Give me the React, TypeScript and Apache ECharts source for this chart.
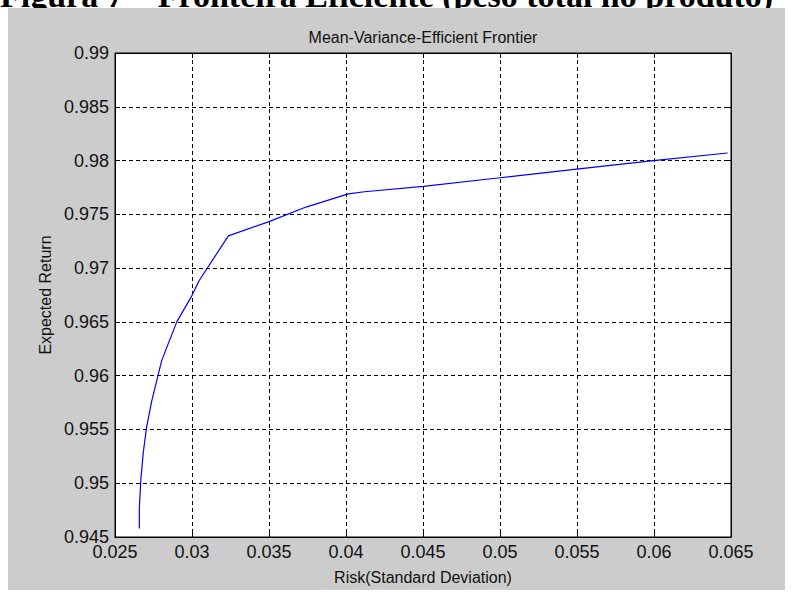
import React, { useEffect, useRef } from "react";
import * as echarts from "echarts";

const riskX = [0.02658, 0.02658, 0.02668, 0.02684, 0.02705, 0.02738, 0.02803, 0.02901, 0.02998, 0.03045, 0.03236, 0.03496, 0.03745, 0.04015, 0.0412, 0.04502, 0.05, 0.05498, 0.05996, 0.06478];
const expectedReturn = [0.9458, 0.9477, 0.9504, 0.9529, 0.9552, 0.9576, 0.9614, 0.965, 0.9674, 0.9688, 0.973, 0.9743, 0.9757, 0.9769, 0.9771, 0.9776, 0.9784, 0.9792, 0.98, 0.9807];

const chartTitle = "Mean-Variance-Efficient Frontier";
const xName = "Risk(Standard Deviation)";
const yName = "Expected Return";
const figureCaption = "Figura 7 – Fronteira Eficiente (peso total no produto)";

const fmt = (v: number) => String(+(+v).toFixed(4));

export default function App() {
  const ref = useRef<HTMLDivElement>(null);
  useEffect(() => {
    document.body.style.margin = "0";
    const chart = echarts.init(ref.current!, null, { renderer: "svg" });
    const font = "'Liberation Sans', Arial, sans-serif";
    const tickFont = { fontFamily: font, fontSize: 18, color: "#111" };
    const grid = { lineStyle: { color: "#000", type: [4, 3] as any, width: 1 } };
    chart.setOption({
      animation: false,
      backgroundColor: "#ffffff",
      graphic: [
        {
          type: "text", x: 0, y: 12, z: -20,
          style: { text: figureCaption, font: "bold 34px 'Liberation Serif', 'Times New Roman', serif", fill: "#000", verticalAlign: "bottom", align: "left" },
        },
        { type: "rect", z: -10, shape: { x: 8, y: 8, width: 777, height: 582 }, style: { fill: "#cccccc" } },
        {
          type: "text", x: 423, y: 37,
          style: { text: chartTitle, font: `16px ${font}`, fill: "#111", align: "center", verticalAlign: "middle" },
        },
        {
          type: "text", x: 423, y: 577,
          style: { text: xName, font: `16px ${font}`, fill: "#111", align: "center", verticalAlign: "middle" },
        },
        {
          type: "text", x: 45, y: 295, rotation: Math.PI / 2,
          style: { text: yName, font: `16px ${font}`, fill: "#111", align: "center", verticalAlign: "middle" },
        },
      ],
      grid: {
        left: 115, top: 53, right: 66, bottom: 59,
        show: true, backgroundColor: "#ffffff", borderColor: "#000", borderWidth: 1,
      },
      xAxis: [
        {
          type: "value", min: 0.025, max: 0.065, interval: 0.005,
          axisLine: { show: true, onZero: false, lineStyle: { color: "#000" } },
          axisTick: { show: true, inside: true, length: 5, lineStyle: { color: "#000" } },
          axisLabel: { ...tickFont, margin: 6, formatter: fmt, showMinLabel: true, showMaxLabel: true },
          splitLine: { show: true, ...grid },
        },
        {
          type: "value", position: "top", min: 0.025, max: 0.065, interval: 0.005,
          axisLine: { show: true, onZero: false, lineStyle: { color: "#000" } },
          axisTick: { show: true, inside: true, length: 5, lineStyle: { color: "#000" } },
          axisLabel: { show: false },
          splitLine: { show: false },
        },
      ],
      yAxis: [
        {
          type: "value", min: 0.945, max: 0.99, interval: 0.005,
          axisLine: { show: true, onZero: false, lineStyle: { color: "#000" } },
          axisTick: { show: true, inside: true, length: 5, lineStyle: { color: "#000" } },
          axisLabel: { ...tickFont, margin: 6, formatter: fmt, showMinLabel: true, showMaxLabel: true },
          splitLine: { show: true, ...grid },
        },
        {
          type: "value", position: "right", min: 0.945, max: 0.99, interval: 0.005,
          axisLine: { show: true, onZero: false, lineStyle: { color: "#000" } },
          axisTick: { show: true, inside: true, length: 5, lineStyle: { color: "#000" } },
          axisLabel: { show: false },
          splitLine: { show: false },
        },
      ],
      series: [
        {
          type: "line",
          data: riskX.map((x, i) => [x, expectedReturn[i]]),
          showSymbol: false,
          lineStyle: { color: "#0000ff", width: 1.2 },
          z: 5,
        },
      ],
    });
    return () => chart.dispose();
  }, []);
  return <div ref={ref} style={{ width: 797, height: 596 }} />;
}
